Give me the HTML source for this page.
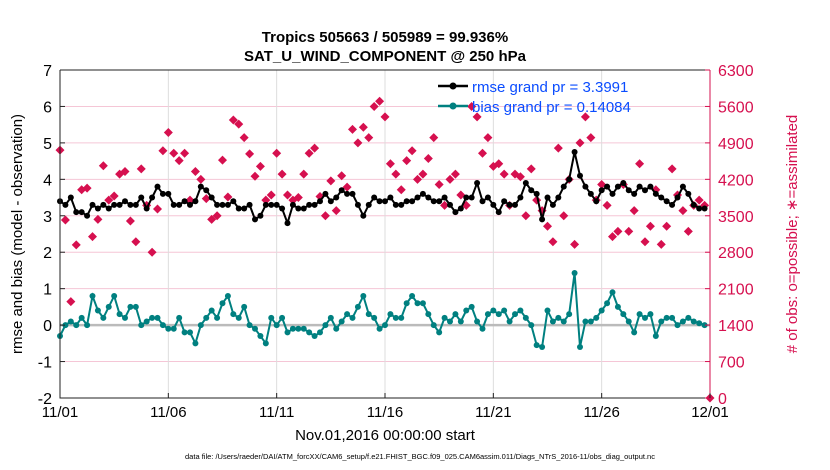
<!DOCTYPE html>
<html><head><meta charset="utf-8"><style>
body{margin:0;background:#fff}
svg{display:block;font-family:"Liberation Sans",Arial,sans-serif}
</style></head><body>
<svg id="chart" width="830" height="470" viewBox="0 0 830 470">
<text x="385" y="42" text-anchor="middle" font-size="15" font-weight="bold">Tropics 505663 / 505989 = 99.936%</text>
<text x="385" y="61" text-anchor="middle" font-size="15" font-weight="bold">SAT_U_WIND_COMPONENT @ 250 hPa</text>
<g id="grid"></g>
<g id="marks"></g>
<g id="axes"></g>
<text transform="translate(22,234) rotate(-90)" text-anchor="middle" font-size="15">rmse and bias (model - observation)</text>
<text transform="translate(797,234) rotate(-90)" text-anchor="middle" font-size="15" fill="#d6104f"># of obs: o=possible; ∗=assimilated</text>
<text x="385" y="440" text-anchor="middle" font-size="15">Nov.01,2016 00:00:00 start</text>
<text x="420" y="459" text-anchor="middle" font-size="7.5">data file: /Users/raeder/DAI/ATM_forcXX/CAM6_setup/f.e21.FHIST_BGC.f09_025.CAM6assim.011/Diags_NTrS_2016-11/obs_diag_output.nc</text>
<g>
<line x1="438" y1="86" x2="468" y2="86" stroke="#000" stroke-width="2.5"/>
<circle cx="453" cy="86" r="3.5" fill="#000"/>
<text x="472" y="92" font-size="15" fill="#0a4cff">rmse grand pr = 3.3991</text>
<line x1="438" y1="106" x2="468" y2="106" stroke="#008080" stroke-width="2.5"/>
<circle cx="453" cy="106" r="3.5" fill="#008080"/>
<text x="472" y="112" font-size="15" fill="#0a4cff">bias grand pr = 0.14084</text>
</g>
</svg>
<script>
const xTickLabels=["11/01","11/06","11/11","11/16","11/21","11/26","12/01"];
const yLeftTicks=[-2,-1,0,1,2,3,4,5,6,7];
const yRightTicks=[0,700,1400,2100,2800,3500,4200,4900,5600,6300];
const rmse=[3.4,3.3,3.5,3.1,3.1,3.0,3.3,3.2,3.3,3.2,3.3,3.3,3.4,3.3,3.3,3.5,3.2,3.5,3.8,3.6,3.6,3.3,3.3,3.4,3.3,3.4,3.8,3.7,3.5,3.3,3.3,3.3,3.4,3.2,3.2,3.3,2.9,3.0,3.3,3.3,3.3,3.2,2.8,3.3,3.2,3.2,3.3,3.3,3.4,3.6,3.4,3.5,3.7,3.6,3.6,3.3,3.0,3.3,3.5,3.4,3.4,3.5,3.3,3.3,3.4,3.4,3.5,3.6,3.5,3.4,3.4,3.5,3.3,3.1,3.2,3.5,3.5,3.9,3.4,3.5,3.3,3.1,3.4,3.3,3.3,3.5,3.9,3.7,3.6,2.9,3.5,3.3,3.5,3.8,4.0,4.75,4.1,3.8,3.6,3.4,3.7,3.8,3.6,3.8,3.9,3.7,3.6,3.8,3.7,3.8,3.6,3.5,3.4,3.3,3.5,3.8,3.6,3.3,3.2,3.2];
const bias=[-0.3,0.0,0.1,0.0,0.2,0.0,0.8,0.4,0.2,0.5,0.8,0.3,0.2,0.5,0.5,0.0,0.1,0.2,0.2,0.0,-0.1,-0.1,0.2,-0.2,-0.2,-0.5,0.0,0.2,0.4,0.2,0.6,0.8,0.3,0.2,0.5,0.0,-0.1,-0.3,-0.5,0.2,0.0,0.2,-0.2,-0.1,-0.1,-0.1,-0.2,-0.3,-0.2,0.0,0.2,-0.1,0.1,0.3,0.2,0.5,0.8,0.3,0.2,-0.1,0.0,0.3,0.2,0.2,0.6,0.8,0.6,0.6,0.3,0.0,-0.2,0.2,0.1,0.3,0.1,0.4,0.5,0.1,-0.1,0.3,0.4,0.3,0.4,0.1,0.3,0.4,0.2,0.0,-0.55,-0.6,0.4,0.1,0.2,0.1,0.3,1.43,-0.6,0.1,0.1,0.2,0.4,0.6,0.9,0.5,0.3,0.1,-0.2,0.3,0.2,0.3,-0.3,0.1,0.2,0.2,0.0,0.1,0.2,0.1,0.05,0.0];
const obs=[4760,3420,1850,2940,4000,4030,3100,3430,4460,3800,3880,4300,4350,3400,3000,4400,3700,2800,3630,4750,5100,4700,4560,4700,3800,4350,4200,3830,3430,3500,4570,3860,5340,5260,5000,4690,4260,4450,3800,3900,4700,4300,3900,3800,3850,4300,4700,4800,3870,3500,4170,3600,4270,4050,5160,4900,5200,5000,5600,5700,5400,4500,4300,4000,4560,4750,4200,4300,4600,5000,4100,3700,4200,4300,3900,3700,5600,5400,4700,5000,4450,4500,4300,3700,4300,4250,3500,4400,3800,3600,3300,3000,4800,3500,4200,2950,4900,5400,5000,3800,4100,3700,3100,3200,4100,3200,3600,4500,3000,3300,4000,2950,3300,4400,3900,3600,3200,3700,3800,3700,0];

const X0=60,X1=710,YT=70,YB=398;
const xs=d=>X0+(d/30)*(X1-X0);
const yl=v=>YB-(v+2)/9*(YB-YT);
const yr=v=>YB-v/6300*(YB-YT);
const NS="http://www.w3.org/2000/svg";
function mk(tag,attrs,parent){const e=document.createElementNS(NS,tag);for(const k in attrs)e.setAttribute(k,attrs[k]);parent.appendChild(e);return e;}
const grid=document.getElementById('grid'),marks=document.getElementById('marks'),axes=document.getElementById('axes');
mk('rect',{x:X0,y:YT,width:X1-X0,height:YB-YT,fill:'#fff'},grid);
yRightTicks.forEach(t=>{if(t===0||t===6300)return;const l=mk('line',{x1:X0,x2:X1,y1:yr(t),y2:yr(t),stroke:'#f5c6d6','stroke-width':1},grid);

});
xTickLabels.forEach((t,i)=>{if(i===0||i===6)return;const l=mk('line',{x1:xs(i*5),x2:xs(i*5),y1:YT,y2:YB,stroke:'#ddd','stroke-width':1},grid);

});
const zl=mk('line',{x1:X0,x2:X1,y1:yl(0),y2:yl(0),stroke:'#bbb','stroke-width':2.5},grid);


obs.forEach((v,i)=>{const x=xs(i/4),y=yr(v);const p=mk('path',{d:`M${x} ${y-4.5}L${x+4.5} ${y}L${x} ${y+4.5}L${x-4.5} ${y}Z`,fill:'#d6104f'},marks);

});
function series(arr,color,name){
 const pts=arr.map((v,i)=>xs(i/4)+','+yl(v)).join(' ');
 const pl=mk('polyline',{points:pts,fill:'none',stroke:color,'stroke-width':2},marks);
 
 
 arr.forEach((v,i)=>{const c=mk('circle',{cx:xs(i/4),cy:yl(v),r:3,fill:color},marks);
 
 });
}
series(bias,'#008080','bias');
series(rmse,'#000','rmse');
mk('path',{d:`M${X0} ${YT}H${X1}M${X0} ${YT}V${YB}H${X1}`,stroke:'#222',fill:'none','stroke-width':1},axes);
mk('line',{x1:X1,x2:X1,y1:YT,y2:YB,stroke:'#d6104f','stroke-width':1},axes);
yLeftTicks.forEach(t=>{const y=yl(t);mk('line',{x1:X0,x2:X0+5,y1:y,y2:y,stroke:'#222'},axes);
const tx=mk('text',{x:X0-8,y:y+6,'text-anchor':'end','font-size':16},axes);tx.textContent=t;

});
yRightTicks.forEach(t=>{const y=yr(t);mk('line',{x1:X1-5,x2:X1,y1:y,y2:y,stroke:'#d6104f'},axes);
const tx=mk('text',{x:X1+8,y:y+6,'font-size':16,fill:'#d6104f'},axes);tx.textContent=t;

});
xTickLabels.forEach((t,i)=>{const x=xs(i*5);mk('line',{x1:x,x2:x,y1:YB,y2:YB-5,stroke:'#222'},axes);
const tx=mk('text',{x:x,y:YB+19,'text-anchor':'middle','font-size':15},axes);tx.textContent=t;

});
</script>
</body></html>
